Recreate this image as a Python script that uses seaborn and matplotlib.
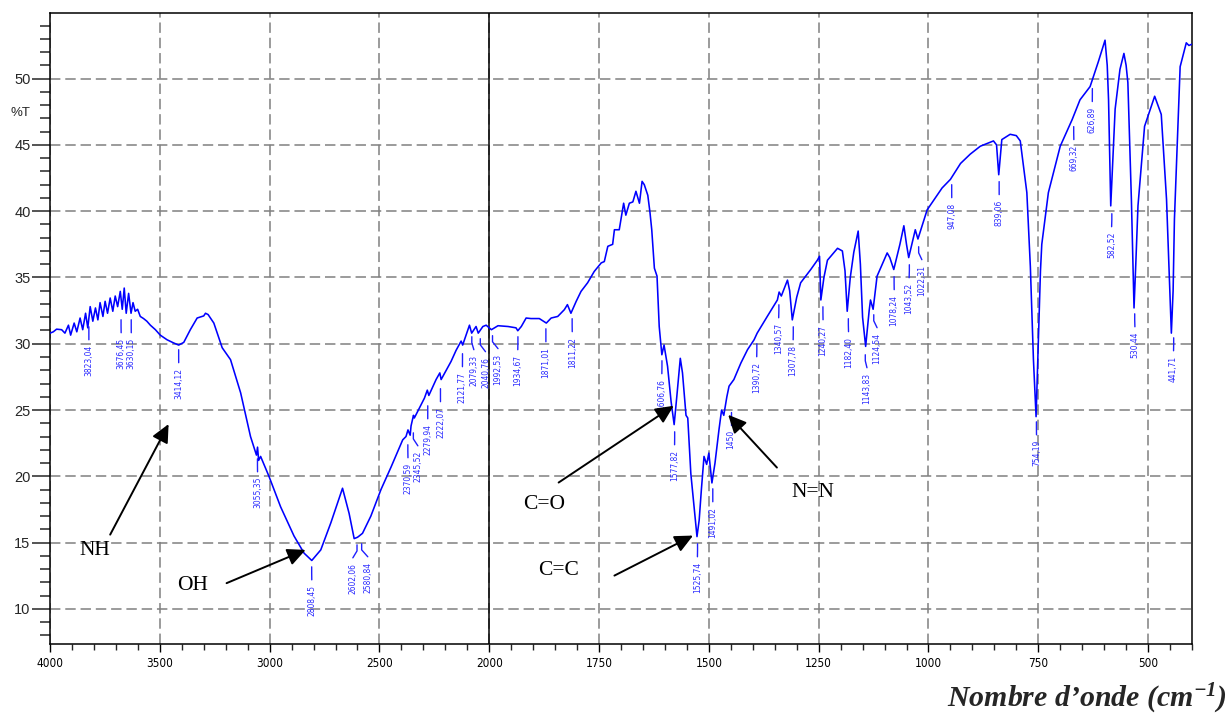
import numpy as np
import pandas as pd
import matplotlib
matplotlib.use("Agg")
import matplotlib.pyplot as plt
import matplotlib.font_manager as fm
import seaborn as sns

# ---------------- data ----------------
wavenumber = [4000, 3985, 3970, 3947, 3932, 3916, 3906, 3890, 3878, 3863, 3851, 3838, 3828, 3817,
              3805, 3793, 3782, 3772, 3759, 3749, 3738, 3726, 3714, 3703, 3692, 3680, 3671, 3662,
              3653, 3642, 3631, 3622, 3612, 3601, 3589, 3574, 3559, 3543, 3520, 3498, 3467, 3437,
              3414, 3391, 3361, 3330, 3300, 3292, 3280, 3254, 3216, 3178, 3132, 3087, 3060, 3055,
              3050, 3041, 3003, 2950, 2889, 2843, 2808, 2767, 2721, 2668, 2638, 2615, 2600, 2592,
              2577, 2539, 2493, 2447, 2394, 2379, 2370, 2360, 2356, 2345, 2341, 2295, 2282, 2275,
              2242, 2225, 2219, 2174, 2151, 2128, 2121, 2097, 2090, 2080, 2060, 2050, 2029, 2014,
              1995, 1980, 1957, 1939, 1935, 1927, 1916, 1905, 1886, 1870, 1859, 1844, 1829, 1822,
              1814, 1802, 1791, 1776, 1761, 1745, 1738, 1730, 1719, 1715, 1704, 1694, 1689, 1681,
              1673, 1666, 1658, 1652, 1647, 1639, 1634, 1630, 1624, 1618, 1613, 1607, 1602, 1594,
              1586, 1579, 1573, 1565, 1560, 1552, 1548, 1541, 1533, 1527, 1522, 1517, 1511, 1505,
              1500, 1493, 1486, 1477, 1471, 1466, 1459, 1454, 1443, 1427, 1412, 1397, 1390, 1367,
              1344, 1340, 1335, 1321, 1316, 1310, 1300, 1291, 1268, 1253, 1248, 1245, 1238, 1230,
              1207, 1196, 1190, 1185, 1178, 1170, 1160, 1155, 1150, 1143, 1135, 1132, 1126, 1117,
              1094, 1088, 1079, 1065, 1056, 1050, 1045, 1030, 1024, 1003, 969, 950, 927, 905,
              882, 852, 845, 840, 833, 814, 800, 791, 776, 768, 761, 755, 749, 745,
              742, 727, 700, 673, 655, 632, 613, 598, 593, 590, 585, 580, 575, 564,
              555, 550, 546, 538, 532, 528, 523, 508, 485, 470, 458, 447, 443, 440,
              427, 413, 407, 400]
transmittance = [30.8, 30.9, 31.1, 31.06, 30.8, 31.4, 30.65, 31.56, 30.9, 31.94, 31.06, 32.3, 31.2, 32.8,
                 31.7, 32.7, 31.8, 33.1, 32.06, 33.2, 32.3, 33.45, 32.45, 33.6, 32.8, 33.95, 32.6, 34.2,
                 32.3, 33.8, 32.3, 33.1, 32.45, 32.6, 32.06, 31.9, 31.7, 31.4, 31.06, 30.65, 30.3, 30.06,
                 29.9, 30.1, 31.06, 31.94, 32.1, 32.3, 32.2, 31.56, 29.7, 28.8, 26.3, 23.0, 21.6, 22.2,
                 21.2, 21.5, 20.0, 17.7, 15.5, 14.2, 13.65, 14.45, 16.5, 19.1, 17.2, 15.3, 15.4, 15.5,
                 15.7, 17.0, 19.0, 20.7, 22.75, 23.0, 23.5, 23.1, 23.8, 24.6, 24.4, 25.9, 26.5, 26.1,
                 27.3, 27.8, 27.3, 28.66, 29.5, 30.2, 29.9, 31.06, 31.4, 30.8, 31.3, 30.8, 31.3, 31.4,
                 31.06, 31.36, 31.3, 31.2, 30.98, 31.3, 31.94, 31.9, 31.9, 31.56, 31.94, 32.06, 32.57, 32.95,
                 32.3, 33.2, 33.95, 34.6, 35.45, 36.1, 36.2, 37.35, 37.5, 38.6, 38.6, 40.6, 39.7, 40.6,
                 40.7, 41.5, 40.6, 42.25, 42.0, 41.2, 39.9, 38.6, 35.7, 35.1, 31.3, 29.17, 29.9, 28.3,
                 25.65, 23.9, 26.0, 28.9, 27.8, 24.6, 24.4, 20.2, 17.5, 15.45, 16.7, 19.0, 21.5, 20.9,
                 21.75, 19.5, 21.0, 23.5, 25.0, 24.6, 26.0, 26.8, 27.3, 28.55, 29.55, 30.3, 30.8, 32.06,
                 33.3, 33.9, 33.6, 34.8, 34.0, 31.8, 33.5, 34.6, 35.6, 36.3, 36.6, 33.3, 35.0, 36.3,
                 37.2, 37.0, 35.5, 32.45, 35.0, 36.9, 38.5, 36.0, 32.0, 29.8, 32.5, 33.3, 32.6, 35.1,
                 36.85, 36.5, 35.6, 37.5, 38.9, 37.5, 36.5, 38.6, 37.9, 40.1, 41.75, 42.4, 43.6, 44.3,
                 44.9, 45.3, 45.0, 42.75, 45.4, 45.8, 45.7, 45.3, 41.4, 35.8, 28.8, 24.5, 31.0, 35.5,
                 37.5, 41.4, 44.9, 46.9, 48.4, 49.4, 51.3, 52.9, 51.0, 48.4, 40.4, 44.0, 47.7, 50.7,
                 51.9, 51.0, 49.7, 40.9, 32.7, 36.0, 40.4, 46.4, 48.67, 47.3, 40.9, 30.8, 34.0, 39.4,
                 50.9, 52.7, 52.5, 52.6]

peak_labels = ["3823,04", "3676,45", "3630,15", "3414,12", "3055,35", "2808,45", "2602,06", "2580,84",
               "2370,59", "2345,52", "2279,94", "2222,07", "2121,77", "2079,33", "2040,76", "1992,53",
               "1934,67", "1871,01", "1811,22", "1606,76", "1577,82", "1525,74", "1491,02", "1450",
               "1390,72", "1340,57", "1307,78", "1240,27", "1182,40", "1143,83", "1124,54", "1078,24",
               "1043,52", "1022,31", "947,08", "839,06", "754,19", "669,32", "626,89", "582,52",
               "530,44", "441,71"]
label_pos = [3823, 3676, 3630, 3414, 3055, 2808, 2621, 2553,
             2370, 2325, 2280, 2222, 2122, 2070, 2017, 1980,
             1935, 1871, 1811, 1607, 1578, 1526, 1491, 1450,
             1391, 1341, 1308, 1240, 1182, 1140, 1117, 1078,
             1044, 1015, 947, 839, 754, 669, 627, 583,
             530, 442]
label_top = [29.92, 30.45, 30.45, 28.19, 19.96, 11.81, 13.47, 13.55, 21.02, 21.92, 23.96, 25.25,
             27.89, 29.17, 29.02, 29.25, 29.17, 29.77, 30.53, 27.36, 22.0, 13.55, 17.7, 23.5,
             28.64, 31.58, 29.92, 31.43, 30.53, 27.81, 30.83, 33.7, 34.6, 35.96, 40.64, 40.87,
             22.75, 45.02, 47.89, 38.45, 30.9, 29.09]

groups = ["NH", "OH", "C=O", "C=C", "N=N"]
group_text_xy = [(3795, 14.4), (3352, 11.8), (1875, 17.85), (1843, 12.9), (1264, 18.75)]
group_arrow_from = [(3726, 15.6), (3196, 11.94), (1842, 19.53), (1715, 12.51), (1345, 20.66)]
group_arrow_to = [(3460, 23.94), (2836, 14.45), (1580, 25.32), (1536, 15.53), (1456, 24.64)]

major_x = [4000, 3500, 3000, 2500, 2000, 1750, 1500, 1250, 1000, 750, 500]

# ---------------- style ----------------
sns.set_style("white")
names = {f.name for f in fm.fontManager.ttflist}
narrow = "Liberation Sans Narrow" if "Liberation Sans Narrow" in names else None
sans = "Liberation Sans" if "Liberation Sans" in names else "DejaVu Sans"
serif = "Liberation Serif" if "Liberation Serif" in names else "DejaVu Serif"
plt.rcParams["font.family"] = [sans, "DejaVu Sans"]
plt.rcParams["lines.scale_dashes"] = False
plt.rcParams["mathtext.fontset"] = "custom"
plt.rcParams["mathtext.rm"] = serif + ":bold:italic"
plt.rcParams["mathtext.it"] = serif + ":bold:italic"
plt.rcParams["mathtext.bf"] = serif + ":bold:italic"

if narrow:
    nfam, nsize_lab, nsize_tick = [narrow, "DejaVu Sans"], 7.4, 10
    nstretch = "normal"
else:
    nfam, nsize_lab, nsize_tick = ["DejaVu Sans"], 6.0, 8.5
    nstretch = "condensed"

fig = plt.figure(figsize=(12.32, 7.16), dpi=100)
ax = fig.add_axes([50 / 1232, 1 - 644 / 716, 1142 / 1232, 631 / 716])

df = pd.DataFrame({"wn": wavenumber, "T": transmittance})
sns.lineplot(data=df, x="wn", y="T", color="#0000FF", lw=1.15, ax=ax,
             estimator=None, sort=False, zorder=4)


def fwd(w):
    w = np.asarray(w, dtype=float)
    return np.where(w >= 2000, w, 2 * w - 2000)


def inv(u):
    u = np.asarray(u, dtype=float)
    return np.where(u >= 2000, u, (u + 2000) / 2)


ax.set_xscale("function", functions=(fwd, inv))
ax.set_xlim(4000, 400)
ax.set_ylim(7.35, 54.95)

ax.set_xticks(major_x)
ax.set_xticklabels([str(v) for v in major_x], fontfamily=nfam, fontsize=nsize_tick,
                   fontstretch=nstretch)
minor_x = [v for v in range(3900, 2000, -100) if v % 500] + \
          [v for v in range(1950, 399, -50) if v % 250]
ax.set_xticks(minor_x, minor=True)
ax.set_yticks(list(range(10, 51, 5)))
ax.set_yticks([v for v in range(8, 55) if v % 5], minor=True)
ax.set_yticklabels([str(v) for v in range(10, 51, 5)], fontsize=10.5)

ax.tick_params(axis="x", which="major", direction="out", length=5.5, width=1, pad=4,
               bottom=True, top=False, colors="black")
ax.tick_params(axis="x", which="minor", direction="out", length=4.5, width=1, bottom=True, top=False)
ax.tick_params(axis="y", which="major", direction="out", length=13, width=1.1, pad=1,
               left=True, right=False)
ax.tick_params(axis="y", which="minor", direction="out", length=7, width=1.1, left=True, right=False)

for s in ax.spines.values():
    s.set_visible(True)
    s.set_color("black")
    s.set_linewidth(1.1)

ax.grid(True, which="major", axis="both", color="#808080", linestyle=(0, (7.5, 3.5)),
        linewidth=1.1, zorder=1)
ax.axvline(2000, color="black", lw=1.1, zorder=2)

ax.set_xlabel("")
ax.set_ylabel("")

# peak labels
for lab, pos, top in zip(peak_labels, label_pos, label_top):
    val = float(lab.replace(",", "."))
    ax.plot([val, val, pos], [top + 1.36, top + 0.9, top + 0.38], color="#1f1fff", lw=1.0, zorder=3)
    ax.text(pos, top, lab, rotation=90, ha="center", va="top", color="#2b2bff",
            fontfamily=nfam, fontsize=nsize_lab, fontstretch=nstretch, zorder=3)

# group annotations
for g, txy, a0, a1 in zip(groups, group_text_xy, group_arrow_from, group_arrow_to):
    ax.text(txy[0], txy[1], g, ha="center", va="center", fontfamily=[serif, "DejaVu Serif"],
            fontsize=15.5, color="black", zorder=5)
    ax.annotate("", xy=a1, xytext=a0,
                arrowprops=dict(arrowstyle="-|>,head_length=0.55,head_width=0.26", color="black",
                                lw=1.4, mutation_scale=20, shrinkA=0, shrinkB=0),
                zorder=6)

fig.text(20 / 1232, 1 - 113 / 716, "%T", ha="center", va="center", fontsize=9.5)
fig.text(1227 / 1232, 1 - 707 / 716, "Nombre d’onde (cm$^{-1}$)", ha="right", va="baseline",
         fontsize=21.5, fontfamily=[serif, "DejaVu Serif"], fontweight="bold", fontstyle="italic")

fig.savefig("out.png", dpi=100)
